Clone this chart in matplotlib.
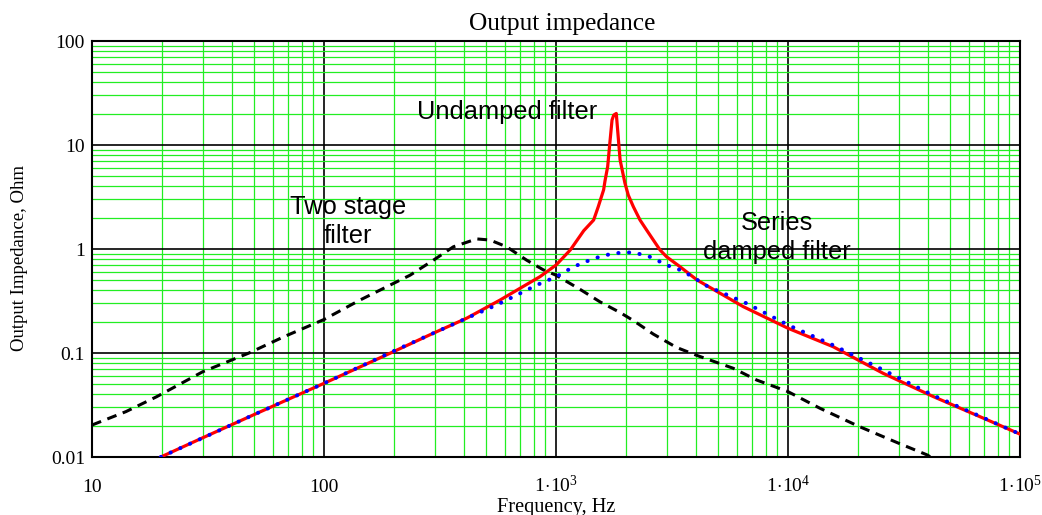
import matplotlib
matplotlib.use("Agg")
import matplotlib.pyplot as plt
from matplotlib.ticker import LogLocator, NullFormatter, FixedLocator

plt.rcParams['font.family'] = ['Liberation Serif', 'DejaVu Serif']
plt.rcParams['mathtext.fontset'] = 'custom'
plt.rcParams['mathtext.rm'] = 'Liberation Serif'
plt.rcParams['mathtext.it'] = 'Liberation Serif:italic'
plt.rcParams['mathtext.bf'] = 'Liberation Serif:bold'

# ---- data ----
freq_two_stage = [10, 14, 19, 30, 47.5, 67, 100, 143, 212, 235, 296, 361, 455, 519, 613,
                  748, 882, 1000, 1268, 1549, 1889, 2155, 2627, 3311, 4037, 5807, 7322,
                  10000, 13740, 20100, 29900, 39670, 41500]
z_two_stage = [0.0203, 0.0273, 0.038, 0.066, 0.1, 0.143, 0.21, 0.323, 0.50, 0.56, 0.78, 1.05,
               1.25, 1.22, 1.05, 0.78, 0.63, 0.56, 0.41, 0.31, 0.245, 0.205, 0.152, 0.113,
               0.095, 0.0713, 0.055, 0.0425, 0.0294, 0.0198, 0.0136, 0.0105, 0.0099]

freq_undamped = [19.8, 30, 50, 100, 193.7, 296, 412, 574, 700, 853, 1000, 1153, 1317, 1453,
                 1521, 1604, 1626, 1670, 1706, 1744, 1774, 1819, 1849, 1889, 1982, 2049, 2155,
                 2302, 2459, 2627, 2807, 3000, 3422, 4058, 6415, 10000, 15640, 25700, 42400,
                 69600, 100000]
z_undamped = [0.01, 0.0153, 0.0256, 0.0511, 0.1, 0.155, 0.216, 0.323, 0.419, 0.542, 0.70,
              0.98, 1.5, 1.9, 2.55, 3.7, 4.5, 6.2, 10.4, 17.4, 19.4, 20.1, 12.9, 7.2, 4.3,
              3.3, 2.55, 1.9, 1.52, 1.22, 0.98, 0.84, 0.676, 0.503, 0.279, 0.173, 0.115,
              0.0638, 0.038, 0.0236, 0.0166]

freq_damped = [19.8, 50, 100, 212, 412, 555, 676, 826, 1000, 1192, 1453, 1767, 2155, 2543,
               2807, 3000, 3422, 3776, 4480, 6634, 10000, 15640, 25700, 42400, 100000]
z_damped = [0.01, 0.0256, 0.0511, 0.111, 0.216, 0.29, 0.36, 0.45, 0.54, 0.676, 0.81, 0.91,
            0.93, 0.84, 0.755, 0.70, 0.63, 0.56, 0.44, 0.30, 0.186, 0.119, 0.0688, 0.039,
            0.0166]

x_ticks = [10, 100, 1000, 10000, 100000]
x_tick_labels = ['10', '100', r'$1\!\cdot\!10^{3}$', r'$1\!\cdot\!10^{4}$', r'$1\!\cdot\!10^{5}$']
y_ticks = [0.01, 0.1, 1, 10, 100]
y_tick_labels = ['0.01', '0.1', '1', '10', '100']

fig = plt.figure(figsize=(10.42, 5.15), dpi=100)
ax = fig.add_axes([92 / 1042, 58 / 515, 928 / 1042, 416 / 515])
ax.set_xscale('log')
ax.set_yscale('log')
ax.set_xlim(10, 1e5)
ax.set_ylim(0.01, 100)

ax.xaxis.set_major_locator(FixedLocator(x_ticks))
ax.yaxis.set_major_locator(FixedLocator(y_ticks))
ax.xaxis.set_minor_locator(LogLocator(base=10, subs=range(2, 10), numticks=50))
ax.yaxis.set_minor_locator(LogLocator(base=10, subs=range(2, 10), numticks=50))
ax.xaxis.set_minor_formatter(NullFormatter())
ax.yaxis.set_minor_formatter(NullFormatter())
ax.set_xticklabels(x_tick_labels)
ax.set_yticklabels(y_tick_labels)

ax.grid(which='minor', color='#22ee22', linewidth=0.9, zorder=0)
ax.grid(which='major', color='black', linewidth=1.2, zorder=0)
ax.set_axisbelow(True)

ax.tick_params(which='both', length=0)
ax.tick_params(axis='x', pad=25.5, labelsize=14)
ax.tick_params(axis='y', pad=5, labelsize=14)
for lab in ax.get_xticklabels():
    lab.set_verticalalignment('baseline')

for s in ax.spines.values():
    s.set_linewidth(1.5)
    s.set_color('black')

ax.plot(freq_two_stage, z_two_stage, color='black', linewidth=2.2,
        linestyle=(0, (3.2, 2.2)), dash_capstyle='butt', zorder=3)
ax.plot(freq_undamped, z_undamped, color='#ff0000', linewidth=2.3, zorder=4)
ax.plot(freq_damped, z_damped, color='#0000ff', linewidth=2.9,
        linestyle=(0, (0.05, 2.6)), dash_capstyle='round', zorder=5)

ax.set_title('Output impedance', fontsize=18.3, pad=8, x=(562 - 92) / 928)
ax.set_xlabel('Frequency, Hz', fontsize=14.7)
ax.xaxis.label.set_verticalalignment('baseline')
ax.xaxis.set_label_coords(0.5, -55 / 416)
ax.set_ylabel('Output Impedance, Ohm', fontsize=13.5)
ax.yaxis.label.set_verticalalignment('center')
ax.yaxis.set_label_coords((20 - 92) / 928, 199 / 416)

ann_font = dict(family=['Liberation Sans', 'DejaVu Sans'], fontsize=18.3, ha='center',
                va='center', linespacing=1.3)
ax.text(615, 20.8, 'Undamped filter', **ann_font)
ax.text(127, 1.84, 'Two stage\nfilter', **ann_font)
ax.text(8970, 1.29, 'Series\ndamped filter', **ann_font)

fig.savefig('out.png', dpi=100)
